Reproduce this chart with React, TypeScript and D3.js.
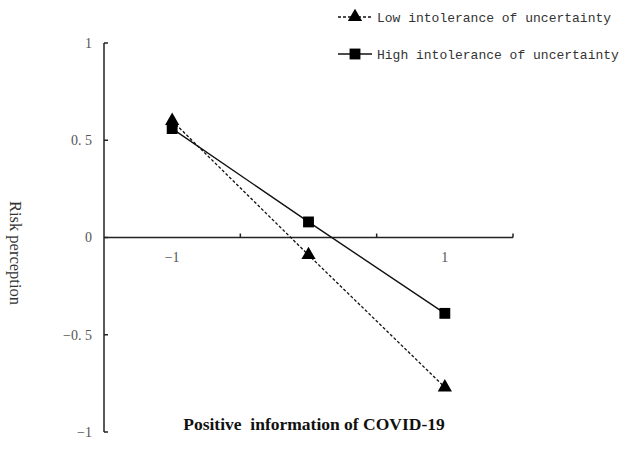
import React from 'react';
import * as d3 from 'd3';

// categories on the x axis (middle one has no label)
const categories = ['-1', '0', '1'];
const categoryLabels = ['\u22121', '', '1'];
const lowValues = [0.6, -0.09, -0.77];
const highValues = [0.56, 0.08, -0.39];
const yTicks = [1, 0.5, 0, -0.5, -1];
const yTickLabels = ['1', '0. 5', '0', '\u22120. 5', '\u22121'];
const seriesNames = ['Low intolerance of uncertainty', 'High intolerance of uncertainty'];

const W = 630, H = 455;
const axisColor = '#222';
const labelColor = '#555';

const x = d3.scaleBand().domain(categories).range([104, 513]).padding(0);
const y = d3.scaleLinear().domain([-1, 1]).range([432, 43]);

const cx = (c: string) => (x(c) as number) + x.bandwidth() / 2;

const line = d3
  .line<number>()
  .x((_, i) => cx(categories[i]))
  .y((d) => y(d));

const triangle = d3.symbol().type(d3.symbolTriangle).size(88)() as string;
const square = d3.symbol().type(d3.symbolSquare).size(118)() as string;

const App = () => {
  const x0 = x.range()[0];
  const x1 = x.range()[1];
  const boundaries = categories.map((c) => (x(c) as number) + x.bandwidth());

  return (
    <div style={{ position: 'absolute', left: 0, top: 0 }}>
      <svg width={W} height={H} style={{ display: 'block', background: '#fff' }}>
        {/* y axis */}
        <line x1={x0} x2={x0} y1={y(1)} y2={y(-1)} stroke={axisColor} strokeWidth={1.5} />
        {yTicks.map((t, i) => (
          <g key={t}>
            <line x1={x0} x2={x0 + 4} y1={y(t)} y2={y(t)} stroke={axisColor} strokeWidth={1.5} />
            <text
              x={x0 - 12}
              y={y(t)}
              dy="0.35em"
              textAnchor="end"
              fontFamily="'Liberation Serif', serif"
              fontSize={14}
              fill={labelColor}
            >
              {yTickLabels[i]}
            </text>
          </g>
        ))}
        {/* x axis at zero */}
        <line x1={x0} x2={x1} y1={y(0)} y2={y(0)} stroke={axisColor} strokeWidth={1.5} />
        {boundaries.map((b) => (
          <line key={b} x1={b} x2={b} y1={y(0)} y2={y(0) - 4} stroke={axisColor} strokeWidth={1.5} />
        ))}
        {categories.map((c, i) => (
          <text
            key={c}
            x={cx(c)}
            y={y(0) + 24}
            textAnchor="middle"
            fontFamily="'Liberation Serif', serif"
            fontSize={14}
            fill={labelColor}
          >
            {categoryLabels[i]}
          </text>
        ))}

        {/* series lines */}
        <path d={line(lowValues) as string} fill="none" stroke="#111" strokeWidth={1.3} strokeDasharray="3,2" />
        <path d={line(highValues) as string} fill="none" stroke="#111" strokeWidth={1.4} />
        {lowValues.map((v, i) => (
          <path key={'l' + i} d={triangle} transform={`translate(${cx(categories[i])},${y(v)})`} fill="#000" />
        ))}
        {highValues.map((v, i) => (
          <path key={'h' + i} d={square} transform={`translate(${cx(categories[i])},${y(v)})`} fill="#000" />
        ))}

        {/* axis titles */}
        <text
          transform={`translate(16,253) rotate(90)`}
          textAnchor="middle"
          dy="0.35em"
          fontFamily="'Liberation Serif', serif"
          fontSize={16.5}
          fill="#333"
        >
          Risk perception
        </text>
        <text
          x={314}
          y={430}
          textAnchor="middle"
          fontFamily="'Liberation Serif', serif"
          fontWeight="bold"
          fontSize={17.5}
          fill="#111"
          style={{ whiteSpace: 'pre' }}
        >
          {'Positive  information of COVID-19'}
        </text>

        {/* legend */}
        {seriesNames.map((name, i) => {
          const ly = 17 + i * 37;
          return (
            <g key={name}>
              <line
                x1={338}
                x2={372}
                y1={ly}
                y2={ly}
                stroke="#111"
                strokeWidth={1.4}
                strokeDasharray={i === 0 ? '3,2' : undefined}
              />
              <path d={i === 0 ? triangle : square} transform={`translate(355,${ly})`} fill="#000" />
              <text
                x={377}
                y={ly}
                dy="0.35em"
                fontFamily="'Liberation Mono', monospace"
                fontSize={13}
                fill="#333"
              >
                {name}
              </text>
            </g>
          );
        })}
      </svg>
    </div>
  );
};

export default App;
